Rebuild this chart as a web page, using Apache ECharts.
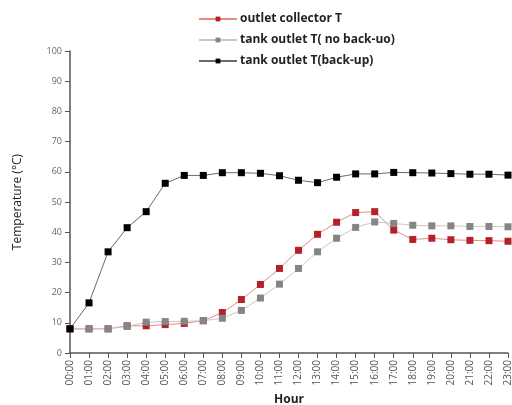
<!DOCTYPE html>
<html>
<head>
<meta charset="utf-8">
<script src="https://cdn.jsdelivr.net/npm/echarts@6/dist/echarts.min.js"></script>
<style>
  html, body { margin: 0; padding: 0; background: #fff; }
  #chart { width: 512px; height: 405px; }
</style>
</head>
<body>
<div id="chart"></div>
<script>
var hours = ['00:00', '01:00', '02:00', '03:00', '04:00', '05:00', '06:00', '07:00',
  '08:00', '09:00', '10:00', '11:00', '12:00', '13:00', '14:00', '15:00',
  '16:00', '17:00', '18:00', '19:00', '20:00', '21:00', '22:00', '23:00'];

var collectorT = [8, 8, 8, 9, 9, 9.4, 9.8, 10.7, 13.4, 17.7, 22.7, 28, 34, 39.3,
  43.3, 46.5, 46.8, 40.7, 37.6, 38, 37.5, 37.3, 37.2, 37];
var tankNoBackup = [8, 8, 8, 8.8, 10.2, 10.4, 10.5, 10.7, 11.5, 14.1, 18.2, 22.8, 28, 33.5,
  38, 41.6, 43.4, 42.9, 42.3, 42.1, 42.1, 41.9, 41.9, 41.8];
var tankBackup = [8, 16.6, 33.5, 41.5, 46.8, 56.2, 58.8, 58.8, 59.7, 59.7, 59.5, 58.7, 57.2, 56.4,
  58.2, 59.3, 59.3, 59.8, 59.7, 59.6, 59.4, 59.2, 59.2, 58.9];

(function () {
  var myChart = echarts.init(document.getElementById('chart'));
  var font = 'Open Sans';

  function line(name, data, lineColor, markColor) {
    return {
      name: name,
      type: 'line',
      data: data,
      symbol: 'rect',
      symbolSize: 7,
      lineStyle: { color: lineColor, width: 1 },
      itemStyle: { color: markColor },
      animation: false
    };
  }

  var option = {
    backgroundColor: '#fff',
    legend: {
      orient: 'vertical',
      left: 193,
      top: 8,
      itemGap: 9,
      itemWidth: 38,
      itemHeight: 6,
      textStyle: { fontFamily: font, fontSize: 12, fontWeight: 'bold', color: '#222', padding: [0, 0, 0, -2] },
      data: ['outlet collector T', 'tank outlet T( no back-uo)', 'tank outlet T(back-up)']
    },
    grid: { left: 70, right: 4, top: 51, bottom: 52, outerBoundsMode: 'none' },
    xAxis: {
      type: 'category',
      data: hours,
      boundaryGap: false,
      name: 'Hour',
      nameLocation: 'middle',
      nameGap: 40,
      nameTextStyle: { fontFamily: font, fontSize: 12, fontWeight: 'bold', color: '#222' },
      axisLine: { lineStyle: { color: '#555', width: 1.5 } },
      axisTick: { alignWithLabel: true, length: 5, lineStyle: { color: '#555' } },
      axisLabel: { rotate: 90, fontFamily: font, fontSize: 10, color: '#555', interval: 0, margin: 7 },
      splitLine: { show: false }
    },
    yAxis: {
      type: 'value',
      min: 0,
      max: 100,
      interval: 10,
      name: 'Temperature (°C)',
      nameLocation: 'middle',
      nameGap: 46,
      nameTextStyle: { fontFamily: font, fontSize: 12, color: '#222' },
      axisLine: { show: true, lineStyle: { color: '#555', width: 1.5 } },
      axisTick: { show: true, length: 5, lineStyle: { color: '#555' } },
      axisLabel: { fontFamily: font, fontSize: 9, color: '#666', margin: 8 },
      splitLine: { show: false }
    },
    series: [
      line('outlet collector T', collectorT, '#e68a8a', '#b3222b'),
      line('tank outlet T( no back-uo)', tankNoBackup, '#c8c8c8', '#858585'),
      line('tank outlet T(back-up)', tankBackup, '#6a6a6a', '#000')
    ]
  };

  myChart.setOption(option);
  window.addEventListener('resize', function () {
    myChart.resize();
  });
})();
</script>
</body>
</html>
